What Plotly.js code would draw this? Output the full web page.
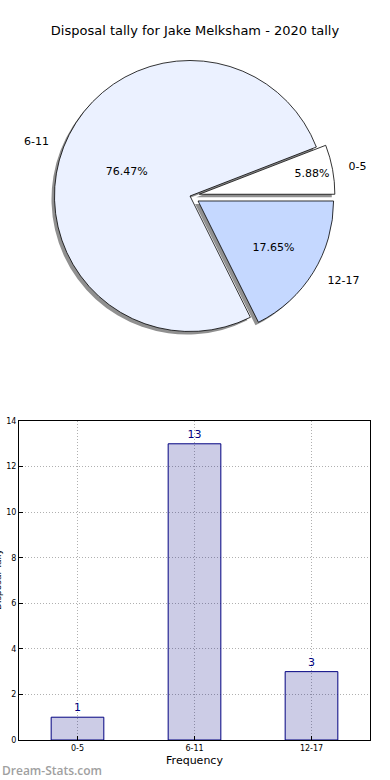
<!DOCTYPE html>
<html>
<head>
<meta charset="utf-8">
<script src="https://cdn.plot.ly/plotly-3.0.1.min.js"></script>
<style>html,body{margin:0;padding:0;background:#fff;} #chart{width:390px;height:780px;}</style>
</head>
<body>
<div id="chart"></div>
<script>
var categories = ["0-5", "6-11", "12-17"];
var tally = [1, 13, 3];
var sliceColors = ["#ffffff", "#ebf1ff", "#c5d8ff"];
var pulls = [0.07, 0, 0.07];
var titleText = "Disposal tally for Jake Melksham - 2020 tally";
var xTitle = "Frequency";
var yTitle = "Disposal Tally";

var FONT = "DejaVu Sans, sans-serif";
var W = 390, H = 780;
var cx = 190, cy = 196, R = 145;
function dom(cxp, cyp, r) {
  return {x: [(cxp - r) / W, (cxp + r) / W], y: [1 - (cyp + r) / H, 1 - (cyp - r) / H]};
}
var total = tally.reduce(function (a, b) { return a + b; }, 0);
var rot = 90 - 360 * tally[0] / total;

var shadow = {
  type: "pie", labels: categories, values: tally, sort: false,
  direction: "counterclockwise", rotation: rot, pull: pulls,
  domain: dom(cx - 3, cy + 3, R),
  marker: {colors: ["#909090", "#909090", "#909090"], line: {width: 0}},
  textinfo: "none", hoverinfo: "skip", showlegend: false
};
var main = {
  type: "pie", labels: categories, values: tally, sort: false,
  direction: "counterclockwise", rotation: rot, pull: pulls,
  domain: dom(cx, cy, R),
  marker: {colors: sliceColors, line: {color: "#000", width: 0.8}},
  texttemplate: "%{percent:.2%}", textposition: "inside",
  insidetextorientation: "horizontal",
  textfont: {family: FONT, size: 11, color: "#000"},
  showlegend: false
};
var labelsTrace = {
  type: "pie", labels: categories, values: tally, sort: false,
  direction: "counterclockwise", rotation: rot, pull: pulls,
  domain: dom(cx, cy, R + 13),
  marker: {colors: ["rgba(0,0,0,0)", "rgba(0,0,0,0)", "rgba(0,0,0,0)"], line: {width: 0}},
  textinfo: "label", textposition: "outside",
  outsidetextfont: {family: FONT, size: 11, color: "#000"},
  hoverinfo: "skip", showlegend: false
};
var bars = {
  type: "bar", x: categories, y: tally, width: 0.45,
  marker: {color: "rgba(0,0,128,0.2)", line: {color: "#000080", width: 1}},
  text: tally.map(String), textposition: "outside", cliponaxis: false,
  textfont: {family: FONT, size: 11, color: "#000080"},
  showlegend: false
};

var layout = {
  width: W, height: H,
  margin: {l: 0, r: 0, t: 0, b: 0},
  paper_bgcolor: "#fff", plot_bgcolor: "#fff",
  font: {family: FONT, color: "#000"},
  uniformtext: {mode: "show", minsize: 11},
  title: {text: titleText, font: {family: FONT, size: 13, color: "#000"},
          x: 0.5, xanchor: "center", y: 1 - 30 / H, yanchor: "middle"},
  xaxis: {
    domain: [19 / W, 370 / W], range: [-0.5, 2.5], type: "category",
    showline: true, linecolor: "#000", linewidth: 1, mirror: true,
    ticks: "inside", ticklen: 4, tickcolor: "#000",
    showgrid: true, gridcolor: "#b0b0b0", griddash: "1px,2px", gridwidth: 1,
    tickfont: {family: FONT, size: 8, color: "#000"},
    title: {text: xTitle, font: {family: FONT, size: 11, color: "#000"}, standoff: 4},
    automargin: false, fixedrange: true
  },
  yaxis: {
    domain: [1 - 740 / H, 1 - 421 / H], range: [0, 14], dtick: 2,
    showline: true, linecolor: "#000", linewidth: 1, mirror: true,
    ticks: "inside", ticklen: 4, tickcolor: "#000", zeroline: false,
    showgrid: true, gridcolor: "#b0b0b0", griddash: "1px,2px", gridwidth: 1,
    tickfont: {family: FONT, size: 8, color: "#000"},
    automargin: false, fixedrange: true
  },
  annotations: [{
    text: "Dream-Stats.com", xref: "paper", yref: "paper",
    x: 0, y: 1 - 770 / H, xanchor: "left", yanchor: "middle", showarrow: false,
    font: {family: "Open Sans, sans-serif", size: 12, color: "#a0a0a0", weight: 600}
  }, {
    text: yTitle, xref: "paper", yref: "paper", textangle: -90,
    x: -2 / W, y: 1 - 580 / H, xanchor: "center", yanchor: "middle", showarrow: false,
    font: {family: FONT, size: 9, color: "#000"}
  }]
};

Plotly.newPlot("chart", [shadow, main, labelsTrace, bars], layout, {staticPlot: true, displayModeBar: false});
</script>
</body>
</html>
